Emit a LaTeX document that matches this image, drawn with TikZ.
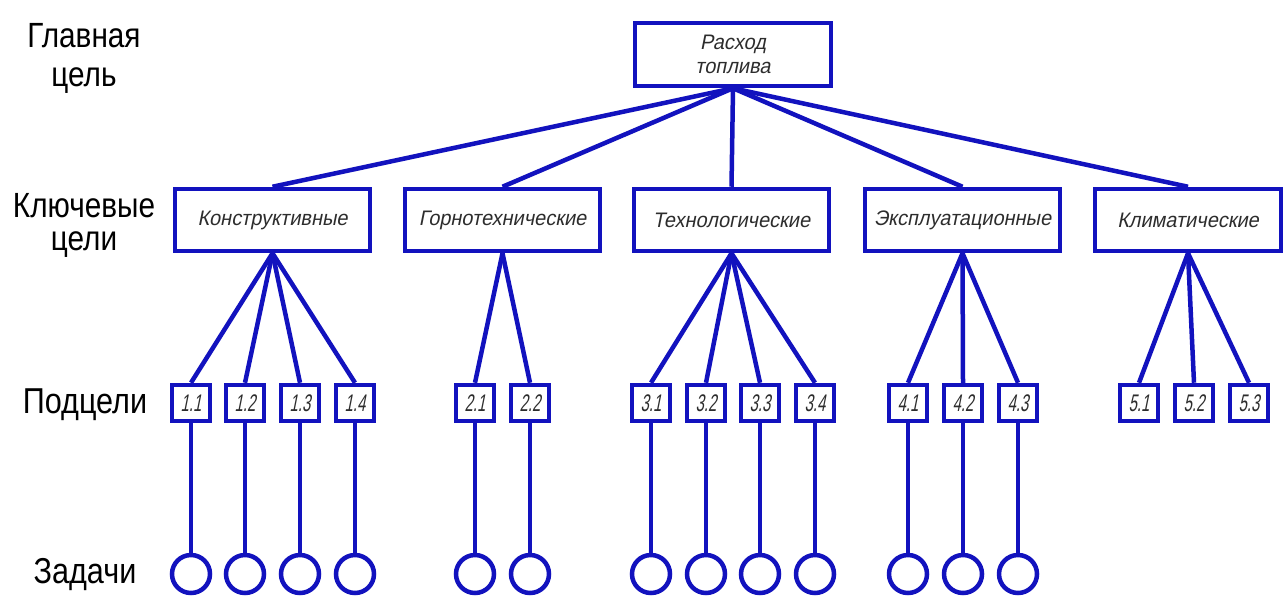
\documentclass[tikz,border=0pt]{standalone}
\usepackage{fontspec}
\newfontfamily\labf[FakeStretch=0.85]{Liberation Sans}
\newfontfamily\boxfont[FakeSlant=0.2,FakeStretch=0.95]{Liberation Sans}
\newfontfamily\numfont[FakeSlant=0.2,FakeStretch=0.62]{Liberation Sans}
\definecolor{ln}{RGB}{18,18,190}
\definecolor{tx}{RGB}{45,45,45}
\begin{document}
\begin{tikzpicture}[x=1pt,y=-1pt,
  gbox/.style={draw=ln,line width=4.5pt,rectangle,inner sep=0pt,text=tx,
    font=\boxfont\fontsize{21}{24}\selectfont,minimum width=195pt,minimum height=62pt},
  sbox/.style={draw=ln,line width=4.5pt,rectangle,inner sep=0pt,text=tx,
    font=\numfont\fontsize{24}{24}\selectfont,minimum width=38pt,minimum height=36pt},
  task/.style={draw=ln,line width=4.5pt,circle,inner sep=0pt,minimum size=38pt},
  conn/.style={draw=ln,line width=4.5pt},
  lab/.style={inner sep=0pt,text=black,align=center}]
\fill[white] (0,0) rectangle (1284,595);
\useasboundingbox (0,0) rectangle (1284,595);

% left labels
\node[lab,font=\labf\fontsize{35}{39}\selectfont] (l1) at (84,58) {Главная\\цель};
\node[lab,font=\labf\fontsize{35}{33}\selectfont] (l2) at (84,225) {Ключевые\\цели};
\node[lab,font=\labf\fontsize{36}{40}\selectfont,anchor=base] (l3) at (85,413) {Подцели};
\node[lab,font=\labf\fontsize{36}{40}\selectfont,anchor=base] (l4) at (85,583) {Задачи};

% main goal
\node[gbox,minimum width=196pt,minimum height=63pt,align=center] (top) at (733,54.5) {Расход\\топлива};

% key goals
\node[gbox] (k1) at (272.5,220) {Конструктивные};
\node[gbox] (k2) at (502.5,220) {Горнотехнические};
\node[gbox] (k3) at (731.5,220) {Технологические};
\node[gbox] (k4) at (962.5,220) {Эксплуатационные};
\node[gbox,minimum width=186pt] (k5) at (1188,220) {Климатические};

\foreach \k in {1,...,5} \draw[conn] (top.south) -- (k\k.north);

% subgoals and tasks
\foreach \x/\k/\j in {191/1/1,245/1/2,300/1/3,355/1/4,
                      475/2/1,530/2/2,
                      651/3/1,706/3/2,760/3/3,815/3/4,
                      908/4/1,963/4/2,1018/4/3,
                      1139/5/1,1194/5/2,1249/5/3}{
  \node[sbox] (s\k\j) at (\x,403) {\k.\j};
  \draw[conn] (k\k.south) -- (s\k\j.north);
}
\foreach \x/\k/\j in {191/1/1,245/1/2,300/1/3,355/1/4,475/2/1,530/2/2,
                   651/3/1,706/3/2,760/3/3,815/3/4,908/4/1,963/4/2,1018/4/3}{
  \node[task] (t\k\j) at (\x,574) {};
  \draw[conn] (s\k\j.south) -- (t\k\j.north);
}
\end{tikzpicture}
\end{document}
